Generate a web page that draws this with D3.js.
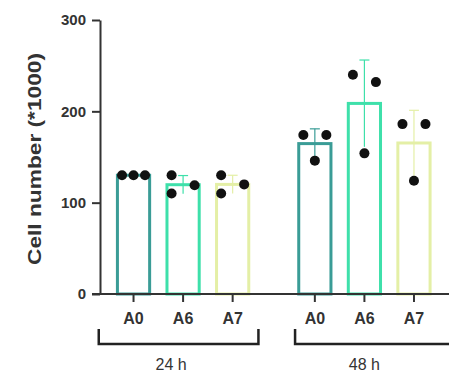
<!DOCTYPE html>
<html>
<head>
<meta charset="utf-8">
<script src="https://cdn.jsdelivr.net/npm/d3@7"></script>
<style>
  html, body { margin: 0; padding: 0; background: #fff; }
  svg { display: block; font-family: "Liberation Sans", Arial, sans-serif; }
</style>
</head>
<body>
<div id="chart"></div>
<script>
// timepoints and conditions
const timepoints = ['24 h', '48 h'];
const conditions = ['A0', 'A6', 'A7'];
const barColors = ['#3a9c96', '#3ee0aa', '#e4efa6'];

// replicate cell counts (*1000), one list per condition, per timepoint
const counts24 = [
  [130, 130, 130],
  [130, 119, 110],
  [130, 120, 110]
];
const counts48 = [
  [174, 174, 146],
  [240, 232, 154],
  [186, 186, 124]
];
const yTicks = [0, 100, 200, 300];

const width = 449, height = 379;
const dotR = 5, dotStep = 11.5;

const svg = d3.select('#chart').append('svg')
  .attr('width', width)
  .attr('height', height);

let y = d3.scaleLinear().domain([0, 300]).range([294, 20]);

let xGroup = d3.scaleBand()
  .domain(timepoints)
  .range([108.75, 438.75])
  .paddingInner(0.18)
  .paddingOuter(0);

let xCond = d3.scaleBand()
  .domain(conditions)
  .range([0, xGroup.bandwidth()])
  .paddingInner(0.35)
  .paddingOuter(0.175);

let color = d3.scaleOrdinal().domain(conditions).range(barColors);

// flatten into one row per bar
let rows = [];
[counts24, counts48].forEach((g, gi) => {
  g.forEach((vals, ci) => {
    rows.push({
      time: timepoints[gi],
      cond: conditions[ci],
      vals: vals,
      mean: d3.mean(vals),
      sd: d3.deviation(vals) || 0
    });
  });
});

// GraphPad-like scatter: close values are spread left/right
function spread(vals) {
  let idx = vals.map((v, i) => i).sort((a, b) => vals[b] - vals[a]);
  let out = new Array(vals.length).fill(0);
  let clusters = [];
  idx.forEach(i => {
    let last = clusters[clusters.length - 1];
    if (last && Math.abs(y(vals[last[last.length - 1]]) - y(vals[i])) < 2 * dotR + 2) last.push(i);
    else clusters.push([i]);
  });
  clusters.forEach(c => {
    if (c.length === 1) return;
    let ext = d3.extent(c, i => y(vals[i]));
    if (c.length % 2 === 1 && ext[1] - ext[0] < 1) {
      c.forEach((i, k) => out[i] = k - (c.length - 1) / 2);
    } else {
      c.forEach((i, k) => out[i] = k % 2 === 0 ? -1 : 1);
    }
  });
  return out;
}

const cx = d => xGroup(d.time) + xCond(d.cond) + xCond.bandwidth() / 2;

// bars
let bars = svg.append('g').selectAll('g')
  .data(rows)
  .enter()
  .append('g');

bars.append('rect')
  .attr('x', d => xGroup(d.time) + xCond(d.cond))
  .attr('y', d => y(d.mean))
  .attr('width', xCond.bandwidth())
  .attr('height', d => y(0) - y(d.mean))
  .attr('fill', '#fff')
  .attr('stroke', d => color(d.cond))
  .attr('stroke-width', 3);

// error bars (mean +/- SD)
bars.append('line')
  .attr('x1', cx).attr('x2', cx)
  .attr('y1', d => y(d.mean - d.sd))
  .attr('y2', d => y(d.mean + d.sd))
  .attr('stroke', d => color(d.cond))
  .attr('stroke-width', 1.2);

bars.append('line')
  .attr('x1', d => cx(d) - 5).attr('x2', d => cx(d) + 5)
  .attr('y1', d => y(d.mean + d.sd))
  .attr('y2', d => y(d.mean + d.sd))
  .attr('stroke', d => color(d.cond))
  .attr('stroke-width', 1.2);

// points
bars.each(function (d) {
  let off = spread(d.vals);
  d3.select(this).selectAll('circle')
    .data(d.vals)
    .enter()
    .append('circle')
    .attr('cx', (v, i) => cx(d) + off[i] * dotStep)
    .attr('cy', v => y(v))
    .attr('r', dotR)
    .attr('fill', '#111');
});

// y axis
let yAxis = svg.append('g')
  .attr('transform', 'translate(100,0)')
  .call(d3.axisLeft(y).tickValues(yTicks).tickSize(8).tickPadding(6).tickSizeOuter(0));
yAxis.select('.domain').attr('stroke', '#333').attr('stroke-width', 2);
yAxis.selectAll('.tick line').attr('stroke', '#333').attr('stroke-width', 2);
yAxis.selectAll('.tick text')
  .attr('fill', '#333')
  .style('font-size', '15px')
  .style('font-weight', 'bold')
  .style('font-family', '"Liberation Sans", Arial, sans-serif');

// x axis baseline (chart is cropped on the right)
svg.append('line')
  .attr('x1', 92).attr('x2', width + 10)
  .attr('y1', y(0)).attr('y2', y(0))
  .attr('stroke', '#333').attr('stroke-width', 2);

// x ticks and labels
let xt = svg.append('g').selectAll('g')
  .data(rows)
  .enter()
  .append('g')
  .attr('transform', d => 'translate(' + cx(d) + ',' + y(0) + ')');

xt.append('line')
  .attr('y1', 0).attr('y2', 8)
  .attr('stroke', '#333').attr('stroke-width', 2);

xt.append('text')
  .text(d => d.cond)
  .attr('y', 30)
  .attr('text-anchor', 'middle')
  .attr('fill', '#333')
  .style('font-size', '16px')
  .style('font-weight', 'bold');

// group brackets, the last one runs off the cropped edge
let br = svg.append('g').selectAll('g')
  .data(timepoints)
  .enter()
  .append('g');

br.append('path')
  .attr('d', (t, i) => {
    let x0 = xGroup(t) - (i === 0 ? 10 : -5);
    let x1 = i === timepoints.length - 1 ? width + 10 : xGroup(t) + xGroup.bandwidth() + 1;
    return 'M' + x0 + ',329V344H' + x1 + 'V329';
  })
  .attr('fill', 'none')
  .attr('stroke', '#222')
  .attr('stroke-width', 2.5);

br.append('text')
  .text(t => t)
  .attr('x', (t, i) => xGroup(t) + xGroup.bandwidth() / 2 - (i === 0 ? 12 : 0))
  .attr('y', 370)
  .attr('text-anchor', 'middle')
  .attr('fill', '#333')
  .style('font-size', '16px');

// y title
svg.append('text')
  .text('Cell  number (*1000)')
  .attr('transform', 'translate(41,159) rotate(-90)')
  .attr('text-anchor', 'middle')
  .attr('fill', '#333')
  .attr('textLength', 212)
  .attr('lengthAdjust', 'spacingAndGlyphs')
  .style('font-size', '19px')
  .style('font-weight', 'bold');
</script>
</body>
</html>
